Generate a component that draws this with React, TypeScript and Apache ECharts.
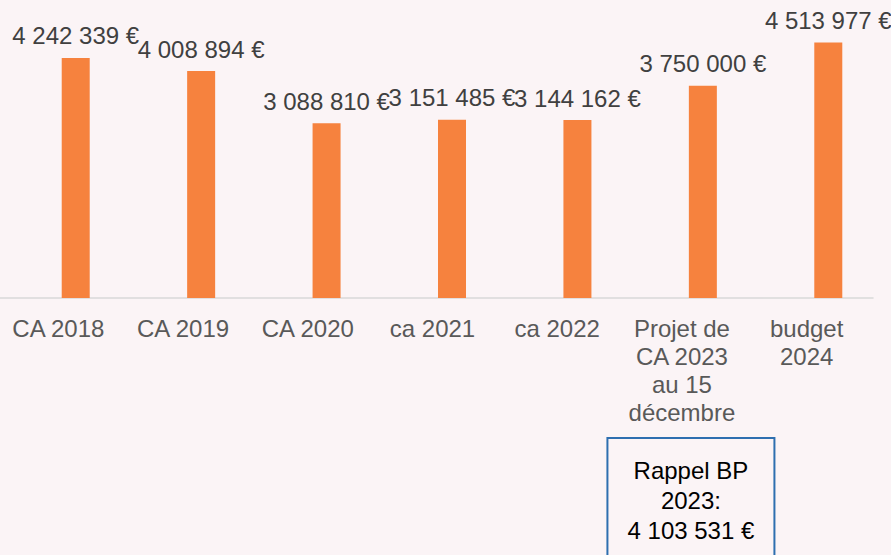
import React, { useEffect, useRef } from "react";
import * as echarts from "echarts";

const categories = [
  "CA 2018",
  "CA 2019",
  "CA 2020",
  "ca 2021",
  "ca 2022",
  "Projet de\nCA 2023\nau 15\ndécembre",
  "budget\n2024",
];
const values = [4242339, 4008894, 3088810, 3151485, 3144162, 3750000, 4513977];
const noteLines = ["Rappel BP", "2023:", "4 103 531 €"];
const noteCategoryIndex = 5;

const fmt = (v: number) =>
  String(Math.round(v)).replace(/\B(?=(\d{3})+(?!\d))/g, " ") + " €";

export default function App() {
  const ref = useRef<HTMLDivElement>(null);
  useEffect(() => {
    if (!ref.current) return;
    const chart = echarts.init(ref.current, null, { renderer: "svg" });
    const font = "'Liberation Sans', Arial, sans-serif";
    chart.setOption({
      animation: false,
      backgroundColor: "#fbf4f6",
      textStyle: { fontFamily: font },
      grid: [
        { left: 13, right: 0, top: 15, bottom: 257 },
        { left: 0, width: 873, top: 15, bottom: 257 },
      ],
      xAxis: [
        {
          type: "category",
          data: categories,
          gridIndex: 0,
          axisLine: { show: false },
          axisTick: { show: false },
          axisLabel: { show: false },
        },
        {
          type: "category",
          data: categories,
          gridIndex: 1,
          axisLine: { show: true, onZero: false, lineStyle: { color: "#d9d9d9", width: 1.5 } },
          axisTick: { show: false },
          axisLabel: {
            interval: 0,
            fontSize: 24,
            lineHeight: 28,
            color: "#595959",
            margin: 16,
            padding: [0, 8, 0, 0],
            fontFamily: font,
          },
          splitLine: { show: false },
        },
      ],
      yAxis: [
        {
          type: "value",
          gridIndex: 0,
          min: 0,
          max: 5000000,
          show: false,
          splitLine: { show: false },
        },
        {
          type: "value",
          gridIndex: 1,
          min: 0,
          max: 1,
          show: false,
          splitLine: { show: false },
        },
      ],
      series: [
        {
          type: "bar",
          data: values,
          barWidth: 28,
          itemStyle: { color: "#f6823e" },
          label: {
            show: true,
            position: "top",
            distance: 10,
            fontSize: 24,
            color: "#404040",
            fontFamily: font,
            formatter: (p: any) => fmt(p.value),
          },
        },
      ],
    });
    const cx = (chart.convertToPixel({ xAxisIndex: 1 }, noteCategoryIndex) as number) + 5;
    chart.setOption({
      graphic: [
        {
          type: "rect",
          shape: { x: cx - 83.5, y: 438, width: 167, height: 130 },
          style: { fill: "transparent", stroke: "#2e6fb0", lineWidth: 2 },
        },
        ...noteLines.map((t, i) => ({
          type: "text",
          x: cx,
          y: 470 + i * 30,
          style: {
            text: t,
            fontSize: 24,
            fill: "#000000",
            fontFamily: font,
            align: "center",
            verticalAlign: "middle",
          },
        })),
      ],
    });
    return () => chart.dispose();
  }, []);
  return <div ref={ref} style={{ width: 891, height: 555, position: "fixed", left: 0, top: 0 }} />;
}
